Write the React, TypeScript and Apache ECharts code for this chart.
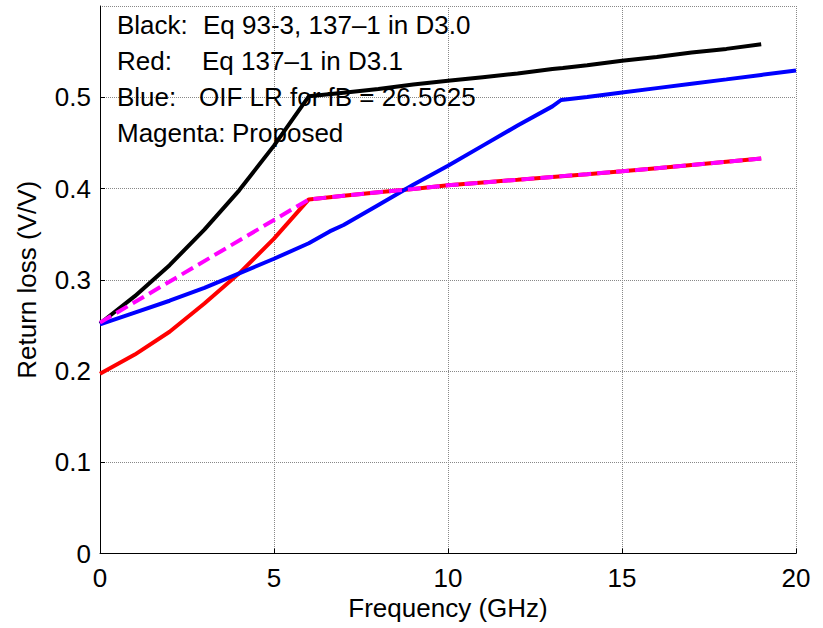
import React, { useEffect, useRef } from "react";
import * as echarts from "echarts";

// Frequency (GHz) and return loss (V/V)
const blackFreq = [0, 1, 2, 3, 4, 5, 6, 7, 8, 9, 10, 11, 12, 13, 13.3, 14, 15, 16, 17, 18, 19];
const blackVals = [0.252, 0.282, 0.316, 0.355, 0.398, 0.447, 0.501, 0.505, 0.509, 0.514, 0.518, 0.522, 0.526, 0.531, 0.532, 0.535, 0.54, 0.544, 0.549, 0.553, 0.558];

const redFreq = [0, 1, 2, 3, 4, 5, 6, 7, 8, 9, 10, 11, 12, 13, 14, 15, 16, 17, 18, 19];
const redVals = [0.197, 0.218, 0.243, 0.274, 0.307, 0.345, 0.388, 0.392, 0.396, 0.3995, 0.4035, 0.4066, 0.4096, 0.4127, 0.4157, 0.4188, 0.4223, 0.4258, 0.4293, 0.4328];

const blueFreq = [0, 1, 2, 3, 4, 5, 6, 6.6, 7, 8, 9, 10, 11, 12, 13, 13.25, 14, 15, 16, 17, 18, 19, 20];
const blueVals = [0.251, 0.264, 0.277, 0.291, 0.307, 0.323, 0.34, 0.353, 0.36, 0.382, 0.404, 0.425, 0.447, 0.469, 0.49, 0.497, 0.5003, 0.5052, 0.51, 0.5148, 0.5196, 0.5245, 0.5293];

const magentaFreq = [0, 6, 7, 8, 9, 10, 11, 12, 13, 14, 15, 16, 17, 18, 19];
const magentaVals = [0.253, 0.388, 0.392, 0.396, 0.3995, 0.4035, 0.4066, 0.4096, 0.4127, 0.4157, 0.4188, 0.4223, 0.4258, 0.4293, 0.4328];

const legendKeys = ["Black:", "Red:", "Blue:", "Magenta:"];
const legendTexts = ["Eq 93-3, 137\u20131 in D3.0", "Eq 137\u20131 in D3.1", "OIF LR for fB = 26.5625", "Proposed"];

const xTitle = "Frequency (GHz)";
const yTitle = "Return loss (V/V)";

const FONT = "'Liberation Sans', Arial, Helvetica, sans-serif";
const FS = 26;

function pairs(f: number[], v: number[]) {
  return f.map((x, i) => [x, v[i]]);
}

export default function App() {
  const ref = useRef<HTMLDivElement>(null);
  useEffect(() => {
    if (!ref.current) return;
    const chart = echarts.init(ref.current, undefined, { renderer: "svg" });
    const keyX = [117, 117, 117, 117];
    const valX = [203, 202, 199, 232];
    const rowY = [26, 62, 98, 134];
    const graphics: any[] = [];
    legendKeys.forEach((k, i) => {
      graphics.push({
        type: "text",
        left: keyX[i],
        top: rowY[i] - 14,
        z: 100,
        style: { text: k, fill: "#000", font: `${FS}px ${FONT}` },
      });
      graphics.push({
        type: "text",
        left: valX[i],
        top: rowY[i] - 14,
        z: 100,
        style: { text: legendTexts[i], fill: "#000", font: `${FS}px ${FONT}` },
      });
    });
    const lineSeries = (data: number[][], color: string, dashed = false) => ({
      type: "line",
      data,
      showSymbol: false,
      symbol: "none",
      smooth: false,
      lineStyle: { color, width: 4, type: dashed ? [13, 6] : "solid" },
      emphasis: { disabled: true },
    });
    chart.setOption({
      animation: false,
      backgroundColor: "#fff",
      grid: { left: 100, right: 27, top: 6, bottom: 74.5 },
      xAxis: {
        type: "value",
        min: 0,
        max: 20,
        interval: 5,
        name: xTitle,
        nameLocation: "middle",
        nameGap: 40,
        nameTextStyle: { fontFamily: FONT, fontSize: FS, color: "#000" },
        axisLine: { show: true, onZero: false, lineStyle: { color: "#000", width: 1 } },
        axisTick: { show: true, inside: true, length: 5, lineStyle: { color: "#000" } },
        axisLabel: { fontFamily: FONT, fontSize: FS, color: "#000", margin: 11 },
        splitLine: { show: true, lineStyle: { color: "#888", type: "dotted", width: 1 } },
      },
      yAxis: {
        type: "value",
        min: 0,
        max: 0.6,
        interval: 0.1,
        name: yTitle,
        nameLocation: "middle",
        nameGap: 60,
        nameTextStyle: { fontFamily: FONT, fontSize: FS, color: "#000" },
        axisLine: { show: true, lineStyle: { color: "#000", width: 1 } },
        axisTick: { show: true, inside: true, length: 5, lineStyle: { color: "#000" } },
        axisLabel: {
          fontFamily: FONT,
          fontSize: FS,
          color: "#000",
          margin: 9,
          showMaxLabel: false,
          formatter: (v: number) => String(Math.round(v * 10) / 10),
        },
        splitLine: { show: true, lineStyle: { color: "#888", type: "dotted", width: 1 } },
      },
      series: [
        lineSeries(pairs(blackFreq, blackVals), "#000000"),
        lineSeries(pairs(redFreq, redVals), "#ff0000"),
        lineSeries(pairs(blueFreq, blueVals), "#0000ff"),
        lineSeries(pairs(magentaFreq, magentaVals), "#ff00ff", true),
      ],
      graphic: graphics,
    });
    return () => chart.dispose();
  }, []);
  return (
    <div
      ref={ref}
      style={{ position: "fixed", left: 0, top: 0, width: 823, height: 628, background: "#fff" }}
    />
  );
}
